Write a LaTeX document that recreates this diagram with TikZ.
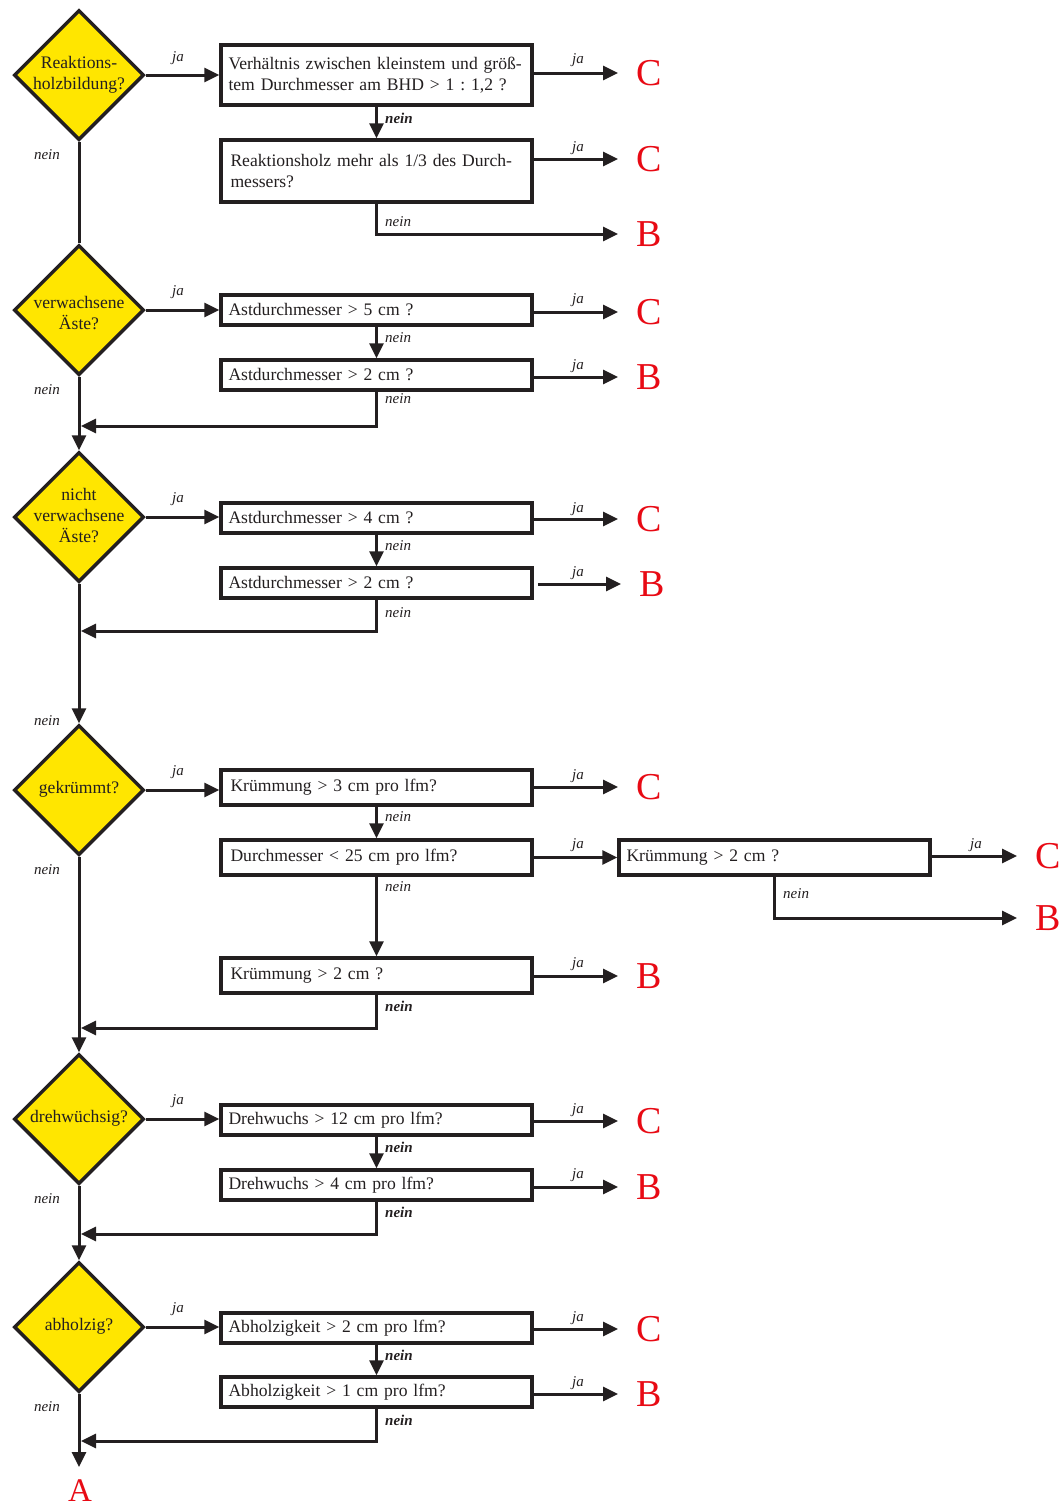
\documentclass[tikz,border=0pt]{standalone}
\usepackage{fontspec}
\setmainfont{Liberation Serif}
\usetikzlibrary{shapes.geometric,arrows.meta}
\definecolor{ink}{RGB}{35,31,32}
\definecolor{yel}{RGB}{255,230,0}
\definecolor{resred}{RGB}{232,10,20}
\frenchspacing
\newcommand{\fsmain}{\fontsize{17.6}{21}\selectfont}
\newcommand{\fslab}{\fontsize{15}{17}\selectfont}
\newcommand{\fsbig}{\fontsize{38}{40}\selectfont}
\tikzset{
  box/.style={draw=ink, line width=3.5pt, fill=white, minimum width=311pt,
    text width=296pt, inner xsep=7.5pt, inner ysep=0pt, align=left, font=\fsmain, text=ink},
  dia/.style={diamond, draw=ink, line width=3.5pt, fill=yel, minimum width=130pt,
    minimum height=130pt, inner sep=0pt},
  diatext/.style={align=center, font=\fsmain, text=ink, inner sep=0pt},
  arr/.style={draw=ink, line width=3pt, -{Triangle[length=15pt,width=14pt]}},
  ln/.style={draw=ink, line width=3pt},
  lab/.style={font=\fslab\itshape, text=ink, inner sep=0pt},
  labb/.style={font=\fslab\bfseries\itshape, text=ink, inner sep=0pt},
  res/.style={text=resred, font=\fsbig, anchor=west, inner xsep=18pt, inner ysep=0pt},
}
\begin{document}
\begin{tikzpicture}[x=1pt,y=-1pt]
\useasboundingbox (0,0) rectangle (1061,1508);

% diamonds
\node[dia] (d1) at (79,75) {};
\node[diatext] at (79,75) {Reaktions-\\holzbildung?};
\node[dia] (d2) at (79,310) {};
\node[diatext] at (79,313) {verwachsene\\Äste?};
\node[dia] (d3) at (79,517) {};
\node[diatext] at (79,516) {nicht\\verwachsene\\Äste?};
\node[dia] (d4) at (79,790) {};
\node[diatext] at (79,789) {gekrümmt?};
\node[dia] (d5) at (79,1119) {};
\node[diatext] at (79,1118) {drehwüchsig?};
\node[dia] (d6) at (79,1327) {};
\node[diatext] at (79,1326) {abholzig?};

% boxes
\node[box, minimum height=60pt] (b1) at (376.5,75) {Verhältnis zwischen kleinstem und größ-\\tem Durchmesser am BHD > 1 : 1,2 ?};
\node[box, minimum height=62pt, inner xsep=9.5pt, text width=292pt] (b2) at (376.5,171) {\raisebox{12pt}{\parbox[t]{292pt}{Reaktionsholz mehr als 1/3 des Durch-\\messers?}}};
\node[box, minimum height=30pt] (b3) at (376.5,310) {Astdurchmesser > 5 cm ?};
\node[box, minimum height=30pt] (b4) at (376.5,375) {Astdurchmesser > 2 cm ?};
\node[box, minimum height=30pt] (b5) at (376.5,518) {Astdurchmesser > 4 cm ?};
\node[box, minimum height=30pt] (b6) at (376.5,583) {Astdurchmesser > 2 cm ?};
\node[box, minimum height=35pt, inner xsep=9.5pt, text width=292pt] (b7) at (376.5,787.5) {Krümmung > 3 cm pro lfm?};
\node[box, minimum height=35pt, inner xsep=9.5pt, text width=292pt] (b8) at (376.5,857.5) {Durchmesser < 25 cm pro lfm?};
\node[box, minimum height=35pt, inner xsep=9.5pt, text width=292pt] (b9) at (376.5,975.5) {Krümmung > 2 cm ?};
\node[box, minimum height=35pt] (b10) at (774.5,857.5) {Krümmung > 2 cm ?};
\node[box, minimum height=30pt] (b11) at (376.5,1120) {Drehwuchs > 12 cm pro lfm?};
\node[box, minimum height=30pt] (b12) at (376.5,1185) {Drehwuchs > 4 cm pro lfm?};
\node[box, minimum height=30pt] (b13) at (376.5,1328) {Abholzigkeit > 2 cm pro lfm?};
\node[box, minimum height=30pt] (b14) at (376.5,1392) {Abholzigkeit > 1 cm pro lfm?};

% results
\node[res] (r1) at (618,73) {C};
\node[res] (r2) at (618,159) {C};
\node[res] (r3) at (618,234) {B};
\node[res] (r4) at (618,312) {C};
\node[res] (r5) at (618,377) {B};
\node[res] (r6) at (618,519) {C};
\node[res] (r7) at (621,584) {B};
\node[res] (r8) at (618,787) {C};
\node[res] (r9) at (1017,856) {C};
\node[res] (r10) at (1017,918) {B};
\node[res] (r11) at (618,976) {B};
\node[res] (r12) at (618,1121) {C};
\node[res] (r13) at (618,1187) {B};
\node[res] (r14) at (618,1329) {C};
\node[res] (r15) at (618,1394) {B};
\node[text=resred, font=\fontsize{33}{35}\selectfont, anchor=north, inner xsep=0pt, inner ysep=12pt] (A) at (80,1467) {A};

% return points on main line
\coordinate (j2) at (81,426);
\coordinate (j3) at (81,631);
\coordinate (j4) at (81,1028);
\coordinate (j5) at (81,1234);
\coordinate (j6) at (81,1441);

% main line
\draw[ln] (d1.south) -- (d2.north);
\draw[arr] (d2.south) -- (d3.north);
\draw[arr] (d3.south) -- (d4.north);
\draw[arr] (d4.south) -- (d5.north);
\draw[arr] (d5.south) -- (d6.north);
\draw[arr] (d6.south) -- (d6.south |- A.north);

% ja from diamonds
\draw[arr] (d1.east) -- (d1.east -| b1.west);
\draw[arr] (d2.east) -- (d2.east -| b3.west);
\draw[arr] (d3.east) -- (d3.east -| b5.west);
\draw[arr] (d4.east) -- (d4.east -| b7.west);
\draw[arr] (d5.east) -- (d5.east -| b11.west);
\draw[arr] (d6.east) -- (d6.east -| b13.west);

% ja from boxes
\draw[arr] (b1.east |- r1.west) -- (r1.west);
\draw[arr] (b2.east |- r2.west) -- (r2.west);
\draw[arr] (b3.east |- r4.west) -- (r4.west);
\draw[arr] (b4.east |- r5.west) -- (r5.west);
\draw[arr] (b5.east |- r6.west) -- (r6.west);
\draw[arr] ([xshift=4pt]b6.east |- r7.west) -- (r7.west);
\draw[arr] (b7.east |- r8.west) -- (r8.west);
\draw[arr] (b8.east) -- (b10.west);
\draw[arr] (b10.east |- r9.west) -- (r9.west);
\draw[arr] (b9.east |- r11.west) -- (r11.west);
\draw[arr] (b11.east |- r12.west) -- (r12.west);
\draw[arr] (b12.east |- r13.west) -- (r13.west);
\draw[arr] (b13.east |- r14.west) -- (r14.west);
\draw[arr] (b14.east |- r15.west) -- (r15.west);

% nein between boxes
\draw[arr] (b1.south) -- (b2.north);
\draw[arr] (b3.south) -- (b4.north);
\draw[arr] (b5.south) -- (b6.north);
\draw[arr] (b7.south) -- (b8.north);
\draw[arr] (b8.south) -- (b9.north);
\draw[arr] (b11.south) -- (b12.north);
\draw[arr] (b13.south) -- (b14.north);

% nein returns
\draw[arr] (b2.south) |- (r3.west);
\draw[arr] (b10.south) |- (r10.west);
\draw[arr] (b4.south) |- (j2);
\draw[arr] (b6.south) |- (j3);
\draw[arr] (b9.south) |- (j4);
\draw[arr] (b12.south) |- (j5);
\draw[arr] (b14.south) |- (j6);

% left nein labels
\foreach \yy in {155,390,721,870,1199,1407} \node[lab] at (47,\yy) {nein};
% left ja labels
\foreach \yy in {58,292,499,772,1101,1309} \node[lab] at (178,\yy) {ja};
% right ja labels
\foreach \yy in {60,148,300,366,509,573,776,845,964,1110,1175,1318,1383} \node[lab] at (578,\yy) {ja};
\node[lab] at (976,845) {ja};
% nein labels below boxes
\foreach \yy in {222,338,399,546,613,817,887} \node[lab, anchor=west] at (385,\yy) {nein};
\foreach \yy in {118,1006,1147,1212,1355,1420} \node[labb, anchor=west] at (385,\yy) {nein};
\node[lab, anchor=west] at (783,894) {nein};
\end{tikzpicture}
\end{document}
